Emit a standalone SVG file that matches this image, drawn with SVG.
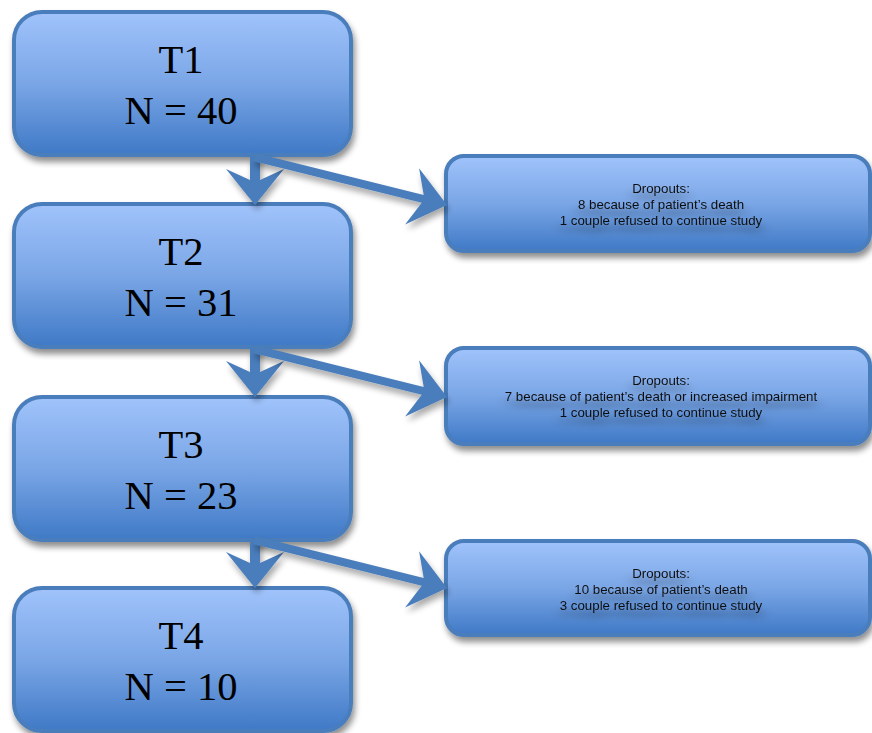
<svg xmlns="http://www.w3.org/2000/svg" width="872" height="733" viewBox="0 0 872 733">
<style>
.box{fill:url(#g);stroke:#4a7dbb;stroke-width:4;filter:url(#sh)}
.big{font-family:"Liberation Serif","DejaVu Serif",serif;font-size:40.5px;fill:#000;text-anchor:middle}
.sm{font-family:"Liberation Sans",Arial,sans-serif;font-size:13.3px;fill:#111;text-anchor:middle;filter:url(#tsh)}
.arr{fill:#4a7dbb;filter:url(#ash)}
</style>
<defs>
<linearGradient id="g" x1="0" y1="0" x2="0" y2="1">
<stop offset="0" stop-color="#a0c3fb"/>
<stop offset="0.5" stop-color="#7aa6e6"/>
<stop offset="1" stop-color="#3f79c6"/>
</linearGradient>
<filter id="sh" x="-10%" y="-10%" width="125%" height="130%">
<feGaussianBlur in="SourceAlpha" stdDeviation="3"/>
<feOffset dx="2" dy="5" result="b"/>
<feComponentTransfer><feFuncA type="linear" slope="0.45"/></feComponentTransfer>
<feMerge><feMergeNode/><feMergeNode in="SourceGraphic"/></feMerge>
</filter>
<filter id="ash" x="-20%" y="-20%" width="140%" height="160%">
<feGaussianBlur in="SourceAlpha" stdDeviation="3"/>
<feOffset dx="2" dy="5"/>
<feComponentTransfer><feFuncA type="linear" slope="0.35"/></feComponentTransfer>
<feMerge><feMergeNode/><feMergeNode in="SourceGraphic"/></feMerge>
</filter>
<filter id="tsh" x="-20%" y="-50%" width="140%" height="250%">
<feGaussianBlur in="SourceAlpha" stdDeviation="7 3"/>
<feOffset dx="0" dy="7"/>
<feComponentTransfer><feFuncA type="linear" slope="0.45"/></feComponentTransfer>
<feMerge><feMergeNode/><feMergeNode in="SourceGraphic"/></feMerge>
</filter>
</defs>
<g id="T1"><rect class="box" x="14" y="12" width="337" height="143" rx="28"/><text class="big" x="181" y="73">T1</text><text class="big" x="181" y="124">N = 40</text></g>
<g id="T2"><rect class="box" x="14" y="204" width="337" height="143" rx="28"/><text class="big" x="181" y="265">T2</text><text class="big" x="181" y="316">N = 31</text></g>
<g id="T3"><rect class="box" x="14" y="397" width="337" height="143" rx="28"/><text class="big" x="181" y="458">T3</text><text class="big" x="181" y="509">N = 23</text></g>
<g id="T4"><rect class="box" x="14" y="588" width="337" height="143" rx="28"/><text class="big" x="181" y="649">T4</text><text class="big" x="181" y="700">N = 10</text></g>
<g id="D1"><rect class="box" x="446" y="156" width="424" height="95" rx="18"/><text class="sm" x="661" y="193">Dropouts:</text><text class="sm" x="661" y="209">8 because of patient’s death</text><text class="sm" x="661" y="225">1 couple refused to continue study</text></g>
<g id="D2"><rect class="box" x="446" y="348" width="424" height="96" rx="18"/><text class="sm" x="661" y="385">Dropouts:</text><text class="sm" x="661" y="401">7 because of patient’s death or increased impairment</text><text class="sm" x="661" y="417">1 couple refused to continue study</text></g>
<g id="D3"><rect class="box" x="446" y="541" width="424" height="94" rx="18"/><text class="sm" x="661" y="578">Dropouts:</text><text class="sm" x="661" y="594">10 because of patient’s death</text><text class="sm" x="661" y="610">3 couple refused to continue study</text></g>
<g id="connectors">
<g id="row1">
<polygon class="arr" points="250,155 260,155 260,180 284,169 255,205 226,169 250,180"/>
<polygon class="arr" points="254.97,153.12 423.71,195.09 419.07,168.17 447,205 405.07,224.45 421.77,202.85 253.03,160.88"/>
</g>
<g id="row2" transform="translate(0,192)">
<polygon class="arr" points="250,155 260,155 260,180 284,169 255,205 226,169 250,180"/>
<polygon class="arr" points="254.97,153.12 423.71,195.09 419.07,168.17 447,205 405.07,224.45 421.77,202.85 253.03,160.88"/>
</g>
<g id="row3" transform="translate(0,383)">
<polygon class="arr" points="250,155 260,155 260,180 284,169 255,205 226,169 250,180"/>
<polygon class="arr" points="254.97,153.12 423.71,195.09 419.07,168.17 447,205 405.07,224.45 421.77,202.85 253.03,160.88"/>
</g>
</g>
</svg>
